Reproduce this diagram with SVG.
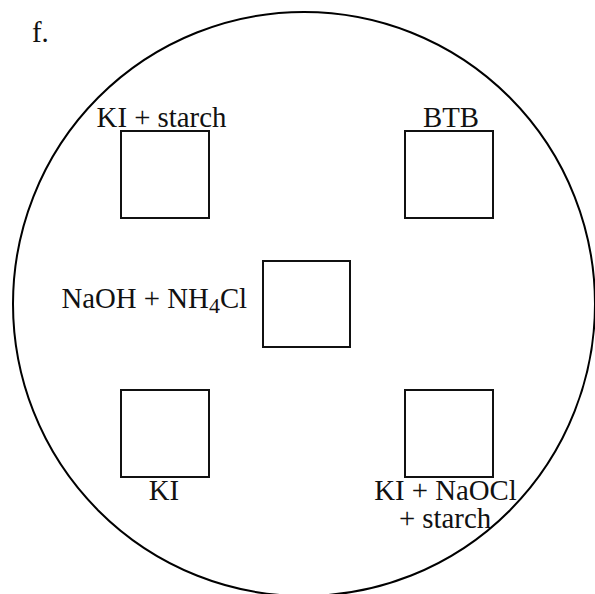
<svg xmlns="http://www.w3.org/2000/svg" width="595" height="594" viewBox="0 0 595 594">
<style>
.t{font-family:"Liberation Serif","Times New Roman",serif;font-size:28.8px;fill:#111}
.box{fill:none;stroke:#111;stroke-width:2}
.dish{fill:none;stroke:#000;stroke-width:2}
</style>
<rect width="595" height="594" fill="#fff"/>
<text class="t" x="32" y="42">f.</text>
<g id="dish"><ellipse class="dish" cx="304" cy="304" rx="291" ry="292"/></g>
<g id="ki-starch">
<rect class="box" x="121" y="131" width="88" height="87"/>
<text class="t" x="161.5" y="127" text-anchor="middle">KI + starch</text>
</g>
<g id="btb">
<rect class="box" x="405" y="131" width="88" height="87"/>
<text class="t" x="451" y="127" text-anchor="middle">BTB</text>
</g>
<g id="naoh-nh4cl">
<rect class="box" x="263" y="261" width="87" height="86"/>
<text class="t" x="61.5" y="308">NaOH + NH<tspan font-size="22" dy="5">4</tspan><tspan dy="-5">Cl</tspan></text>
</g>
<g id="ki">
<rect class="box" x="121" y="390" width="88" height="87"/>
<text class="t" x="164" y="500" text-anchor="middle">KI</text>
</g>
<g id="ki-naocl-starch">
<rect class="box" x="405" y="390" width="88" height="87"/>
<text class="t" x="445.5" y="500" text-anchor="middle">KI + NaOCl</text>
<text class="t" x="445" y="528" text-anchor="middle">+ starch</text>
</g>
<g id="connectors"></g>
</svg>
